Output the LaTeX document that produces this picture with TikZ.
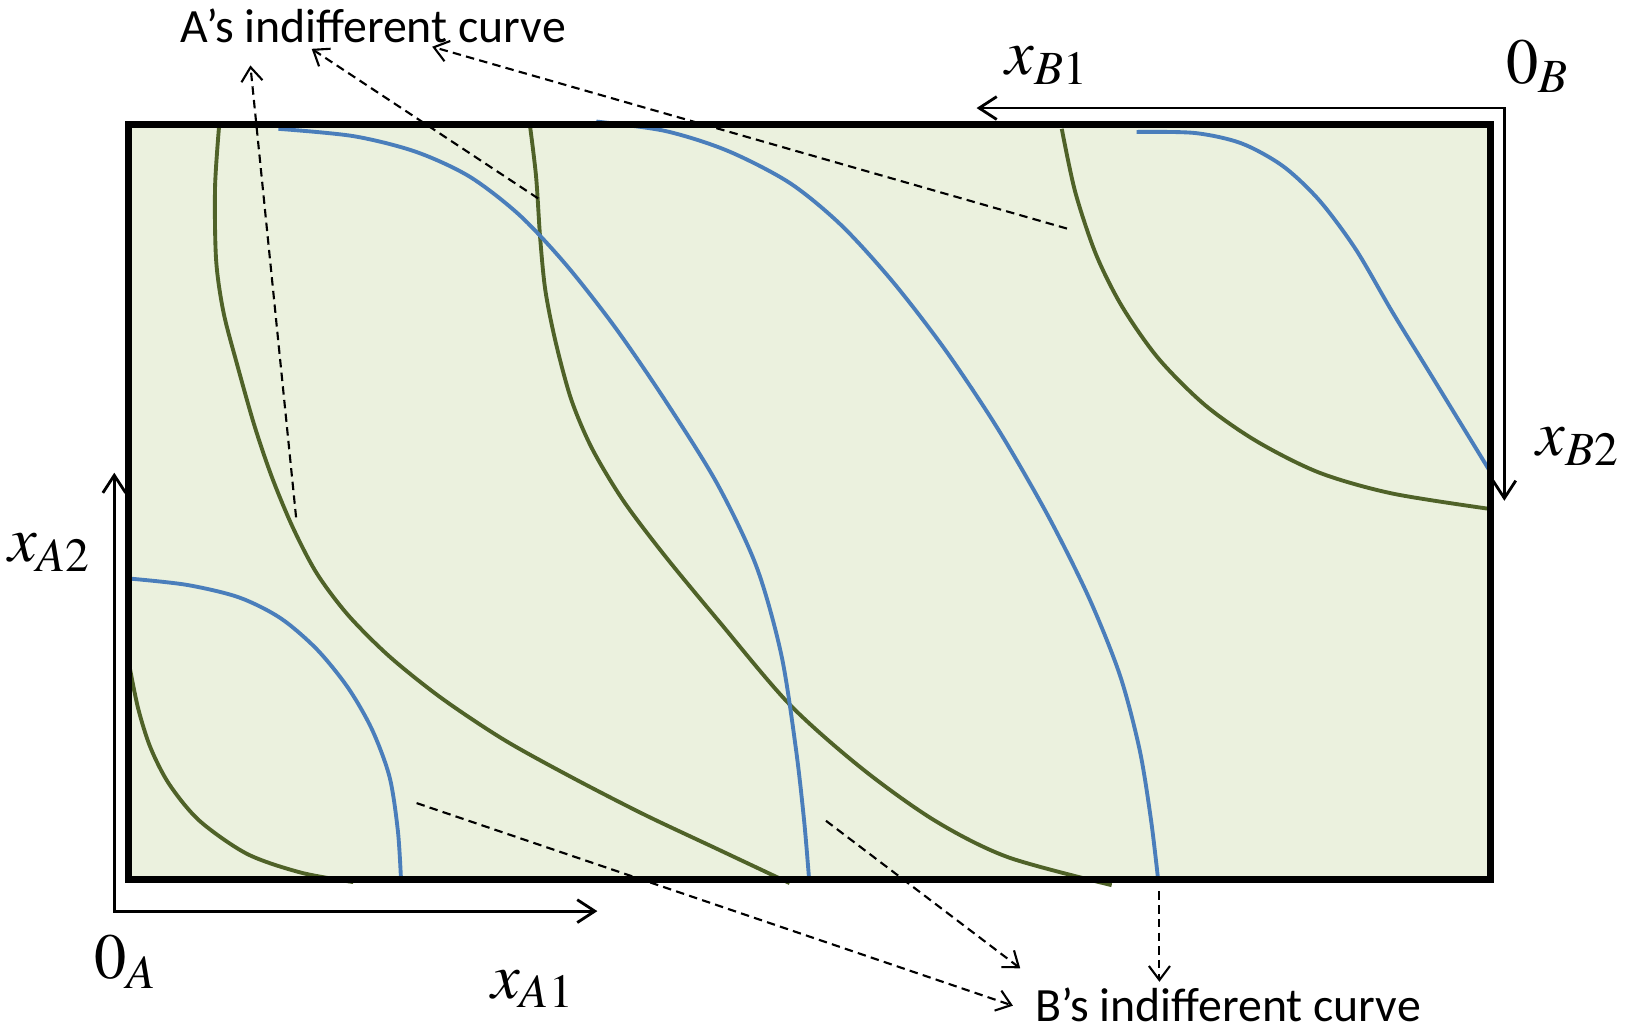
\documentclass[tikz,border=0pt]{standalone}
\usepackage{mathptmx}
\usepackage[no-math]{fontspec}
\setmainfont{Carlito}
\usetikzlibrary{arrows.meta}
\definecolor{paper}{HTML}{EBF1DE}
\definecolor{olive}{HTML}{4F6228}
\definecolor{sky}{HTML}{4A7EBB}

\begin{document}
\begin{tikzpicture}[x=0.010389cm, y=-0.010389cm,
   box/.style={draw=black,line width=2pt,fill=paper},
   acurve/.style={draw=olive,line width=1.1pt},
   bcurve/.style={draw=sky,line width=1.1pt},
   ax/.style={draw=black,line width=0.8pt,{Straight Barb[length=5pt,width=6.5pt]}-{Straight Barb[length=5pt,width=6.5pt]}},
   pt/.style={draw=black,line width=0.6pt,dash pattern=on 2.4pt off 1.5pt,-{Straight Barb[length=4pt,width=6pt]}},
   lbl/.style={inner sep=0pt,font=\fontsize{18.3}{22}\selectfont},
   note/.style={inner sep=0pt,font=\fontsize{13.6}{16}\selectfont}]
  \useasboundingbox (0,0) rectangle (1568,993);
  % Edgeworth box
  \fill[paper] (124,120) rectangle (1435,847);
  % A's indifference curves
  \draw[acurve] plot[smooth] coordinates {(124,638) (133,682) (145,720) (163,755) (192,790) (238,822) (290,840) (340,849)};
  \draw[acurve] plot[smooth] coordinates {(211,120) (207,180) (208,250) (215,300) (228,350) (245,410) (262,460) (282,508) (305,552) (335,592) (375,632) (425,672) (485,712) (550,748) (620,784) (690,817) (760,850)};
  \draw[acurve] plot[smooth] coordinates {(510,120) (516,170) (520,230) (525,280) (535,330) (550,385) (570,432) (600,482) (640,535) (692,598) (760,678) (830,740) (900,790) (970,825) (1070,852)};
  \draw[acurve] plot[smooth] coordinates {(1022,124) (1035,185) (1055,245) (1080,295) (1115,345) (1160,390) (1210,425) (1270,455) (1340,475) (1435,490)};
  % B's indifference curves
  \draw[bcurve] plot[smooth] coordinates {(126,557) (180,563) (230,575) (270,595) (305,625) (335,662) (358,702) (375,748) (383,800) (386,847)};
  \draw[bcurve] plot[smooth] coordinates {(268,124) (340,131) (400,146) (452,170) (500,207) (545,255) (592,315) (640,385) (690,465) (728,545) (752,630) (766,720) (774,790) (779,849)};
  \draw[bcurve] plot[smooth] coordinates {(574,117) (640,126) (700,145) (760,176) (810,217) (860,272) (910,337) (960,412) (1008,495) (1048,575) (1078,650) (1097,722) (1108,790) (1115,849)};
  \draw[bcurve] plot[smooth] coordinates {(1094,127) (1150,128) (1195,138) (1235,160) (1270,193) (1305,240) (1340,300) (1375,357) (1405,406) (1435,455)};
  \draw[box,fill=none] (124,120) rectangle (1435,847);
  % axes of the two consumers
  \coordinate (a2) at (110,455);
  \coordinate (oa) at (110,877);
  \coordinate (a1) at (575,877);
  \coordinate (b1) at (940,104);
  \coordinate (ob) at (1448,104);
  \coordinate (b2) at (1448,482);
  \draw[ax] (a2) -- (oa) -- (a1);
  \draw[ax] (b1) -- (ob) -- (b2);
  \node[lbl] (oalbl) at (121,926) {$0_A$};
  \node[lbl] (a1lbl) at (513,952) {$x_{A1}$};
  \node[lbl] (a2lbl) at (48,532) {$x_{A2}$};
  \node[lbl] (b1lbl) at (1008,63) {$x_{B1}$};
  \node[lbl] (oblbl) at (1480,64) {$0_B$};
  \node[lbl] (b2lbl) at (1519,430) {$x_{B2}$};
  % captions and pointers
  \node[note] (atext) at (359,25) {A’s indifferent curve};
  \node[note] (btext) at (1182,967) {B’s indifferent curve};
  \coordinate (pa1) at (285,498); \coordinate (ha1) at (241,63);
  \coordinate (pa2) at (518,191); \coordinate (ha2) at (300,47);
  \coordinate (pa3) at (1027,220); \coordinate (ha3) at (416,45);
  \coordinate (pb1) at (401,773); \coordinate (hb1) at (975,968);
  \coordinate (pb2) at (795,790); \coordinate (hb2) at (982,932);
  \coordinate (pb3) at (1116,858); \coordinate (hb3) at (1116,945);
  \draw[pt] (pa1) -- (ha1); \draw[pt] (pa2) -- (ha2); \draw[pt] (pa3) -- (ha3);
  \draw[pt] (pb1) -- (hb1); \draw[pt] (pb2) -- (hb2); \draw[pt] (pb3) -- (hb3);
\end{tikzpicture}
\end{document}
